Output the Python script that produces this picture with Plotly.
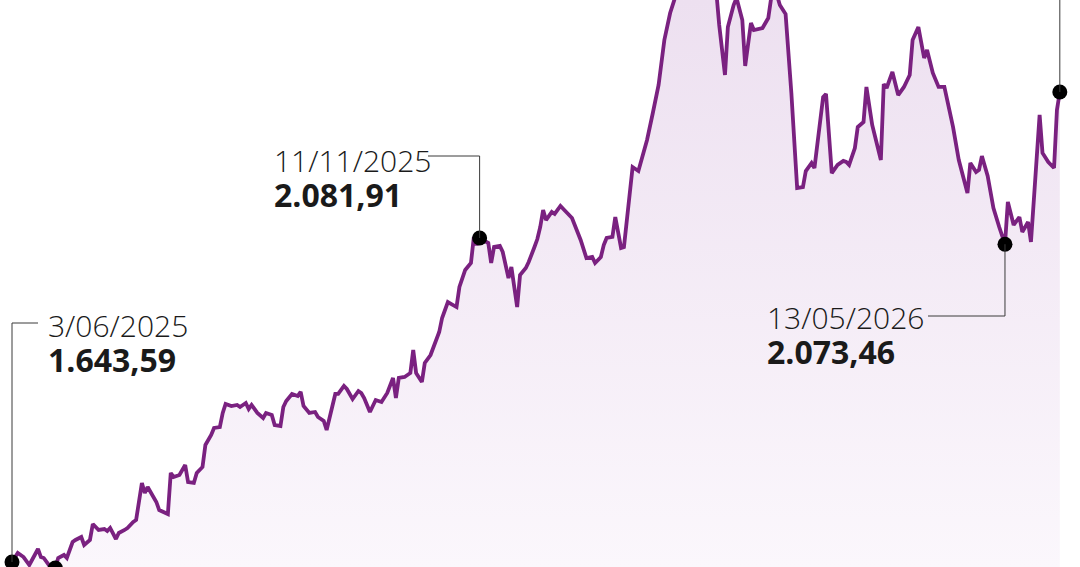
import plotly.graph_objects as go

# Trading-day positions (days since 3/06/2025) and index values
days = [0, 2, 4, 6, 9, 10, 11, 13, 15, 16, 18, 19, 21, 22, 24, 25, 27, 28, 30, 32,
        33, 34, 36, 37, 39, 40, 42, 43, 45, 46, 47, 50, 51, 54, 55, 56, 58, 60, 61, 63,
        64, 66, 67, 69, 70, 72, 73, 74, 76, 78, 79, 81, 82, 83, 85, 87, 88, 90, 91, 93,
        94, 95, 97, 99, 100, 101, 103, 105, 106, 108, 109, 111, 112, 113, 115, 116, 118, 120, 121, 122,
        124, 126, 128, 130, 132, 133, 134, 136, 138, 139, 140, 142, 143, 145, 147, 148, 149, 151, 154, 155,
        157, 159, 160, 161, 162, 165, 166, 167, 169, 170, 172, 173, 175, 176, 178, 179, 181, 182, 183, 184,
        185, 187, 188, 190, 192, 194, 197, 199, 201, 202, 204, 205, 206, 208, 209, 211, 212, 214, 215, 217,
        218, 220, 222, 224, 226, 228, 230, 231, 233, 235, 237, 238, 240, 242, 244, 245, 247, 248, 250, 251,
        253, 254, 256, 257, 260, 262, 263, 265, 266, 268, 270, 272, 274, 275, 277, 278, 281, 282, 284, 286,
        288, 289, 290, 292, 293, 295, 296, 298, 301, 302, 303, 305, 307, 309, 311, 312, 314, 316, 317, 319,
        321, 323, 325, 326, 328, 331, 332, 334, 335, 336, 338, 340, 342, 344, 345, 347, 349, 350, 352, 353,
        354, 356, 357, 359, 361, 362, 363]

values = [1643.59, 1655.8, 1650.3, 1639.5, 1661.2, 1650.3, 1649.0, 1638.2, 1635.5, 1649.0,
          1653.1, 1649.0, 1670.6, 1673.4, 1677.4, 1666.6, 1673.4, 1695.0, 1686.9, 1688.2,
          1685.5, 1689.6, 1674.7, 1682.8, 1686.9, 1689.6, 1697.7, 1700.4, 1750.5, 1736.9,
          1745.0, 1724.8, 1713.9, 1708.5, 1764.0, 1758.6, 1761.3, 1774.8, 1751.8, 1750.5,
          1764.0, 1772.1, 1801.9, 1815.4, 1824.9, 1826.2, 1845.2, 1857.3, 1854.6, 1856.0,
          1853.3, 1858.7, 1850.6, 1856.0, 1845.2, 1838.4, 1845.2, 1842.5, 1828.9, 1827.6,
          1853.3, 1861.4, 1870.9, 1868.2, 1873.6, 1854.6, 1845.2, 1846.5, 1839.7, 1834.3,
          1822.2, 1858.7, 1870.9, 1870.9, 1881.7, 1877.6, 1864.1, 1874.9, 1872.2, 1865.4,
          1846.5, 1862.7, 1860.0, 1872.2, 1892.5, 1865.4, 1892.5, 1893.9, 1899.3, 1930.4,
          1899.3, 1887.1, 1912.8, 1923.6, 1943.9, 1954.7, 1973.7, 1995.3, 1988.5, 2015.6,
          2038.6, 2048.1, 2083.3, 2072.4, 2081.91, 2075.1, 2048.1, 2069.7, 2071.1, 2063.0,
          2027.8, 2042.7, 1988.5, 2031.8, 2041.3, 2049.4, 2069.7, 2080.5, 2096.8, 2119.8,
          2106.2, 2117.1, 2114.4, 2125.2, 2117.1, 2109.0, 2079.2, 2054.8, 2056.2, 2048.1,
          2056.2, 2072.4, 2081.9, 2083.3, 2110.3, 2068.4, 2069.7, 2137.4, 2177.9, 2172.5,
          2187.4, 2214.5, 2251.0, 2288.9, 2349.8, 2386.3, 2410.6, 2430.9, 2424.1, 2444.4,
          2437.7, 2458.0, 2444.4, 2430.9, 2414.7, 2370.0, 2302.4, 2367.3, 2397.1, 2406.6,
          2376.8, 2314.6, 2372.7, 2363.3, 2366.0, 2379.5, 2406.6, 2410.6, 2397.1, 2384.9,
          2278.0, 2149.5, 2150.9, 2172.5, 2183.4, 2176.6, 2272.6, 2276.7, 2169.8, 2180.7,
          2186.1, 2184.7, 2180.7, 2203.6, 2232.1, 2238.8, 2286.2, 2234.8, 2187.4, 2290.2,
          2284.8, 2306.5, 2275.3, 2286.2, 2302.4, 2349.8, 2367.3, 2325.4, 2336.2, 2305.1,
          2286.2, 2286.2, 2251.0, 2232.1, 2187.4, 2142.8, 2183.4, 2171.2, 2173.9, 2192.8,
          2165.8, 2122.5, 2096.8, 2073.46, 2130.6, 2099.5, 2110.3, 2090.0, 2103.5, 2076.5,
          2133.3, 2248.3, 2196.9, 2184.7, 2176.6, 2255.1, 2279.4]

marked_days = [0, 15, 162, 344, 363]

label_days = [0, 162, 344]
label_dates = ["3/06/2025", "11/11/2025", "13/05/2026"]
label_values = ["1.643,59", "2.081,91", "2.073,46"]

W, H = 1080, 567
Y_TOP, Y_BOT = 2403.86, 1636.82
X_LEFT, X_RIGHT = -4.157, 369.99


def py2y(py):
    return Y_TOP - py * (Y_TOP - Y_BOT) / H


def px2x(px):
    return X_LEFT + px * (X_RIGHT - X_LEFT) / W


LINE = "#7a2180"
TXT = "#1a1a1a"
LEAD = "#3a3a3a"
FONT = "Open Sans"

fig = go.Figure()
fig.add_trace(go.Scatter(
    x=days, y=values, mode="lines",
    line=dict(color=LINE, width=3.8),
    fill="tozeroy",
    fillgradient=dict(type="vertical", colorscale=[[0, "#fbf7fc"], [1, "#ede0f0"]],
                      start=Y_BOT, stop=Y_TOP),
    hoverinfo="skip",
))

mx = list(marked_days)
my = [values[days.index(d)] for d in marked_days]
fig.add_trace(go.Scatter(x=mx, y=my, mode="markers",
                         marker=dict(color="black", size=15), hoverinfo="skip"))

# leader lines (elbow positions in pixel layout)
elbows = {0: (323, 38), 162: (156, 428), 344: (316, 928)}
shapes = []
for d in label_days:
    v = values[days.index(d)]
    ey, ex = elbows[d]
    shapes.append(dict(type="path", xref="x", yref="y",
                       path=f"M {d},{v} L {d},{py2y(ey)} L {px2x(ex)},{py2y(ey)}",
                       line=dict(color=LEAD, width=1)))
d_last = days[-1]
shapes.append(dict(type="line", xref="x", yref="y", x0=d_last, x1=d_last,
                   y0=values[-1], y1=Y_TOP + 50, line=dict(color=LEAD, width=1)))

# text block positions (left x, vertical middle y) in pixels
text_pos = {0: (46, 343), 162: (272, 178), 344: (765, 335)}
annotations = []
for d, dt, val in zip(label_days, label_dates, label_values):
    tx, ty = text_pos[d]
    annotations.append(dict(
        xref="paper", yref="paper", x=tx / W, y=1 - ty / H,
        xanchor="left", yanchor="middle", align="left", showarrow=False,
        text=(f"<span style='font-size:30px;font-weight:300'>{dt}</span><br>"
              f"<b><span style='font-size:32px'>{val}</span></b>"),
        font=dict(family=FONT, size=27, color=TXT, weight=300)))

fig.update_layout(
    width=W, height=H,
    margin=dict(l=0, r=0, t=0, b=0),
    paper_bgcolor="white", plot_bgcolor="white",
    showlegend=False,
    xaxis=dict(range=[X_LEFT, X_RIGHT], visible=False, fixedrange=True),
    yaxis=dict(range=[Y_BOT, Y_TOP], visible=False, fixedrange=True),
    shapes=shapes,
    annotations=annotations,
)

fig.write_html("out.html")
